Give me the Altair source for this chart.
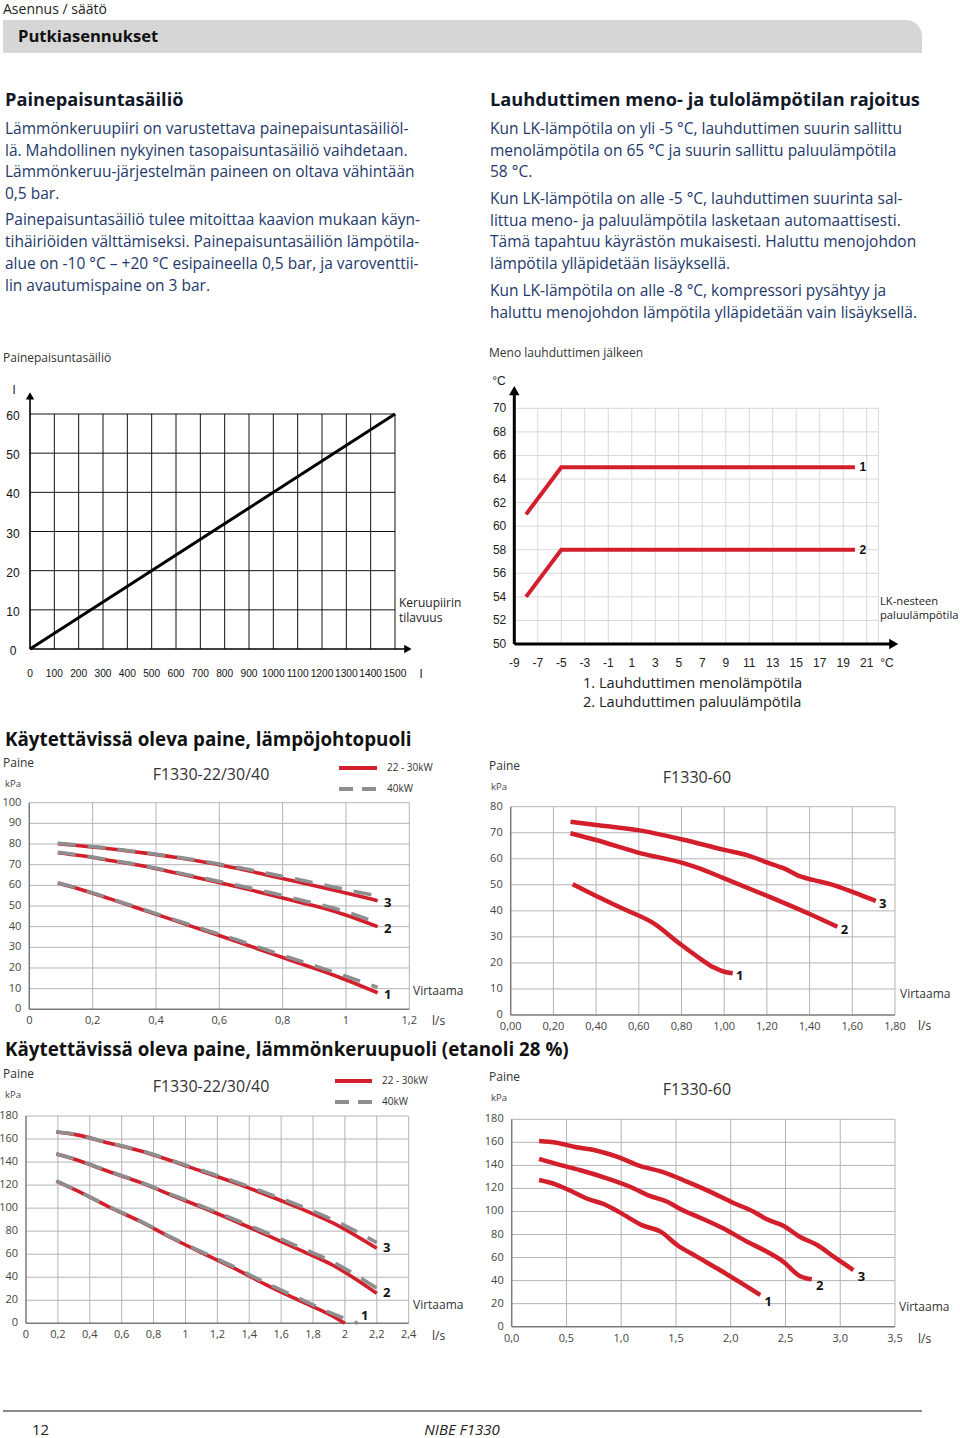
import altair as alt
import pandas as pd

# ---------------- data ----------------
# Chart 1: expansion vessel size vs collector volume
vessel_volume = [0, 1500]
vessel_litres = [0, 60]

# Chart 2: condenser limits vs brine return temp
lk_temp = [-8, -5, 20]
flow_limit = [61, 65, 65]
return_limit = [54, 58, 58]

# Chart 3: heating side F1330-22/30/40 (x = l/s, y = kPa)
hs_x = [0.09, 0.16, 0.26, 0.36, 0.46, 0.56, 0.66, 0.76, 0.86, 0.96, 1.10]
hs_red_3 = [80.2, 79.2, 77.6, 75.7, 73.6, 71.1, 68.1, 64.7, 61.3, 57.7, 52.6]
hs_gray_3 = [80.4, 79.4, 77.8, 75.9, 73.8, 71.4, 68.6, 65.6, 62.5, 59.2, 54.8]
hs_red_2 = [75.8, 74.4, 71.9, 69.4, 66.1, 62.7, 59.2, 55.5, 51.6, 47.6, 40.0]
hs_gray_2 = [76.0, 74.6, 72.1, 69.6, 66.4, 63.2, 59.9, 56.5, 52.8, 49.0, 41.9]
hs_red_1 = [61.1, 58.1, 53.2, 48.1, 42.9, 37.7, 32.6, 27.2, 21.9, 16.6, 8.0]
hs_gray_1 = [61.3, 58.3, 53.4, 48.4, 43.3, 38.3, 33.4, 28.2, 23.1, 18.1, 10.6]

# Chart 4: heating side F1330-60
h60_x1 = [0.29, 0.40, 0.54, 0.67, 0.79, 0.89, 0.95, 1.00, 1.04]
h60_y1 = [50.2, 45.7, 40.3, 35.2, 27.5, 21.5, 18.3, 16.6, 16.0]
h60_x2 = [0.28, 0.40, 0.61, 0.80, 0.87, 1.00, 1.20, 1.40, 1.53]
h60_y2 = [69.8, 67.2, 62.1, 58.5, 56.7, 52.5, 45.8, 38.8, 33.9]
h60_x3 = [0.28, 0.40, 0.61, 0.80, 1.00, 1.11, 1.20, 1.28, 1.36, 1.42, 1.50, 1.61, 1.71]
h60_y3 = [74.2, 73.0, 70.8, 67.5, 63.4, 61.3, 58.6, 56.3, 53.1, 51.8, 50.2, 47.0, 43.8]

# Chart 5: brine side F1330-22/30/40
bs_x = [0.19, 0.32, 0.51, 0.72, 0.91, 1.11, 1.32, 1.51, 1.72, 1.93, 2.20]
bs_red_3 = [166.1, 163.6, 156.8, 149.6, 141.2, 131.6, 121.5, 111.4, 99.8, 86.8, 65.1]
bs_gray_3 = [166.3, 163.8, 157.0, 149.9, 141.6, 132.4, 122.6, 113.0, 101.9, 89.5, 70.0]
bs_red_2 = [147.0, 141.8, 132.2, 122.1, 111.4, 100.3, 88.2, 76.6, 63.6, 50.0, 26.0]
bs_gray_2 = [147.2, 142.0, 132.5, 122.5, 112.0, 101.2, 89.5, 78.4, 65.8, 52.8, 30.4]
bs_x1_red = [0.19, 0.32, 0.51, 0.72, 0.91, 1.11, 1.32, 1.51, 1.72, 1.93, 2.00]
bs_red_1 = [123.5, 115.1, 101.8, 88.2, 74.3, 60.8, 46.9, 33.2, 19.4, 5.7, 0.0]
bs_x1_gray = [0.19, 0.32, 0.51, 0.72, 0.91, 1.11, 1.32, 1.51, 1.72, 1.93, 2.08]
bs_gray_1 = [123.7, 115.3, 102.1, 88.6, 74.8, 61.5, 47.9, 34.6, 21.2, 8.0, 0.0]

# Chart 6: brine side F1330-60
b60_x1 = [0.25, 0.40, 0.52, 0.72, 0.84, 0.99, 1.20, 1.36, 1.51, 1.69, 1.90, 2.09, 2.27]
b60_y1 = [127.3, 123.6, 118.7, 110.0, 106.5, 99.0, 87.7, 82.5, 70.9, 60.8, 49.2, 38.2, 27.5]
b60_x2 = [0.25, 0.44, 0.62, 0.87, 1.08, 1.26, 1.42, 1.54, 1.72, 1.93, 2.15, 2.33, 2.48, 2.63, 2.74]
b60_y2 = [145.6, 140.4, 136.0, 128.8, 121.5, 113.5, 108.5, 102.2, 94.6, 85.4, 73.8, 65.1, 56.4, 44.0, 41.1]
b60_x3 = [0.25, 0.41, 0.59, 0.75, 0.96, 1.17, 1.39, 1.60, 1.81, 2.02, 2.21, 2.33, 2.48, 2.63, 2.79, 2.94, 3.12]
b60_y3 = [161.2, 159.7, 155.7, 153.4, 147.6, 139.5, 134.0, 125.9, 117.2, 107.6, 99.8, 93.2, 87.7, 78.1, 70.9, 60.8, 49.2]

# tick labels
t1_x = list(range(0, 1501, 100))
t1_y = [0, 10, 20, 30, 40, 50, 60]
t2_x = list(range(-9, 22, 2))
t2_y = list(range(50, 71, 2))
t3_x = [0, 0.2, 0.4, 0.6, 0.8, 1.0, 1.2]
t3_xl = ["0", "0,2", "0,4", "0,6", "0,8", "1", "1,2"]
t3_y = list(range(0, 101, 10))
t4_x = [0, 0.2, 0.4, 0.6, 0.8, 1.0, 1.2, 1.4, 1.6, 1.8]
t4_xl = ["0,00", "0,20", "0,40", "0,60", "0,80", "1,00", "1,20", "1,40", "1,60", "1,80"]
t4_y = list(range(0, 81, 10))
t5_x = [0, 0.2, 0.4, 0.6, 0.8, 1.0, 1.2, 1.4, 1.6, 1.8, 2.0, 2.2, 2.4]
t5_xl = ["0", "0,2", "0,4", "0,6", "0,8", "1", "1,2", "1,4", "1,6", "1,8", "2", "2,2", "2,4"]
t5_y = list(range(0, 181, 20))
t6_x = [0, 0.5, 1.0, 1.5, 2.0, 2.5, 3.0, 3.5]
t6_xl = ["0,0", "0,5", "1,0", "1,5", "2,0", "2,5", "3,0", "3,5"]
t6_y = list(range(0, 181, 20))

left_lines = [
    "Lämmönkeruupiiri on varustettava painepaisuntasäiliöl-",
    "lä. Mahdollinen nykyinen tasopaisuntasäiliö vaihdetaan.",
    "Lämmönkeruu-järjestelmän paineen on oltava vähintään",
    "0,5 bar.",
    "Painepaisuntasäiliö tulee mitoittaa kaavion mukaan käyn-",
    "tihäiriöiden välttämiseksi. Painepaisuntasäiliön lämpötila-",
    "alue on -10 °C – +20 °C esipaineella 0,5 bar, ja varoventtii-",
    "lin avautumispaine on 3 bar.",
]
right_lines = [
    "Kun LK-lämpötila on yli -5 °C, lauhduttimen suurin sallittu",
    "menolämpötila on 65 °C ja suurin sallittu paluulämpötila",
    "58 °C.",
    "Kun LK-lämpötila on alle -5 °C, lauhduttimen suurinta sal-",
    "littua meno- ja paluulämpötila lasketaan automaattisesti.",
    "Tämä tapahtuu käyrästön mukaisesti. Haluttu menojohdon",
    "lämpötila ylläpidetään lisäyksellä.",
    "Kun LK-lämpötila on alle -8 °C, kompressori pysähtyy ja",
    "haluttu menojohdon lämpötila ylläpidetään vain lisäyksellä.",
]

# ---------------- styles ----------------
SANS = "Open Sans, Noto Sans, sans-serif"
ARIAL = "Liberation Sans, Arial, sans-serif"
RED = "#d21f2b"
GRAY = "#8e8e8e"
BODY = "#24396b"
HEAD = "#111827"
GRID = "#b4b4b4"

layers = []


def sc(dom, rng):
    return alt.Scale(domain=dom, range=rng, nice=False, zero=False)


class Panel:
    def __init__(self, xdom, xrng, ydom, yrng):
        self.xdom, self.xrng, self.ydom, self.yrng = xdom, xrng, ydom, yrng

    def X(self, f):
        return alt.X(f, type="quantitative", scale=sc(self.xdom, self.xrng), axis=None)

    def Y(self, f):
        return alt.Y(f, type="quantitative", scale=sc(self.ydom, self.yrng), axis=None)

    def hlines(self, ys, x0, x1, color, width):
        df = pd.DataFrame({"y": ys, "x0": x0, "x1": x1})
        layers.append(alt.Chart(df).mark_rule(color=color, strokeWidth=width).encode(
            x=self.X("x0"), x2="x1", y=self.Y("y")))

    def vlines(self, xs, y0, y1, color, width):
        df = pd.DataFrame({"x": xs, "y0": y0, "y1": y1})
        layers.append(alt.Chart(df).mark_rule(color=color, strokeWidth=width).encode(
            x=self.X("x"), y=self.Y("y0"), y2="y1"))

    def line(self, xs, ys, color, width, dash=None, interp="monotone", cap="butt"):
        df = pd.DataFrame({"x": xs, "y": ys})
        kw = dict(color=color, strokeWidth=width, interpolate=interp, strokeCap=cap)
        if dash:
            kw["strokeDash"] = dash
        layers.append(alt.Chart(df).mark_line(**kw).encode(x=self.X("x"), y=self.Y("y")))

    def texts(self, xs, ys, labels, **style):
        df = pd.DataFrame({"x": xs, "y": ys, "t": labels})
        layers.append(alt.Chart(df).mark_text(**style).encode(
            x=self.X("x"), y=self.Y("y"), text="t:N"))

    def arrow(self, x, y, shape, size):
        df = pd.DataFrame({"x": [x], "y": [y]})
        layers.append(alt.Chart(df).mark_point(shape=shape, filled=True, size=size,
                                               color="black", opacity=1).encode(
            x=self.X("x"), y=self.Y("y")))


def ptext(items, **style):
    df = pd.DataFrame(items, columns=["px", "py", "t"])
    layers.append(alt.Chart(df).mark_text(**style).encode(
        x=alt.X("px:Q", scale=None, axis=None),
        y=alt.Y("py:Q", scale=None, axis=None),
        text="t:N"))


def prule(x0, x1, y, color, width, dash=None):
    df = pd.DataFrame({"x0": [x0], "x1": [x1], "y": [y]})
    kw = dict(color=color, strokeWidth=width)
    if dash:
        kw["strokeDash"] = dash
    layers.append(alt.Chart(df).mark_rule(**kw).encode(
        x=alt.X("x0:Q", scale=None, axis=None), x2="x1",
        y=alt.Y("y:Q", scale=None, axis=None)))


# ---------------- page header & text ----------------
df_bar = pd.DataFrame({"x0": [3], "x1": [922], "y0": [20], "y1": [53]})
layers.append(alt.Chart(df_bar).mark_rect(color="#d6d6d6", cornerRadiusTopRight=16).encode(
    x=alt.X("x0:Q", scale=None, axis=None), x2="x1",
    y=alt.Y("y0:Q", scale=None, axis=None), y2="y1"))
ptext([(3, 10, "Asennus / säätö")], align="left", baseline="middle", font=SANS, fontSize=14, color="#222222")
ptext([(18, 37, "Putkiasennukset")], align="left", baseline="middle", font=SANS, fontSize=16.6,
      fontWeight="bold", color="#111111")

ptext([(5, 101, "Painepaisuntasäiliö"), (490, 101, "Lauhduttimen meno- ja tulolämpötilan rajoitus")],
      align="left", baseline="middle", font=SANS, fontSize=18.2, fontWeight="bold", color=HEAD)
ly = [129, 151, 172, 194, 220, 242, 264, 286]
ry = [129, 151, 172, 199, 221, 242, 264, 291, 313]
ptext([(5, y, t) for y, t in zip(ly, left_lines)] + [(490, y, t) for y, t in zip(ry, right_lines)],
      align="left", baseline="middle", font=SANS, fontSize=15.5, color=BODY)

ptext([(3, 358, "Painepaisuntasäiliö"), (489, 353, "Meno lauhduttimen jälkeen")],
      align="left", baseline="middle", font=SANS, fontSize=12, color="#333333")

ptext([(5, 740, "Käytettävissä oleva paine, lämpöjohtopuoli"),
       (5, 1050, "Käytettävissä oleva paine, lämmönkeruupuoli (etanoli 28 %)")],
      align="left", baseline="middle", font=SANS, fontSize=18.8, fontWeight="bold", color="#111111")

# footer
prule(3, 922, 1411, "#8a8a8a", 2)
ptext([(32, 1430, "12")], align="left", baseline="middle", font=SANS, fontSize=15, color="#222222")
ptext([(462, 1430, "NIBE F1330")], align="center", baseline="middle", font=SANS, fontSize=15,
      fontStyle="italic", color="#222222")

# ---------------- Chart 1 ----------------
p1 = Panel([0, 1500], [30, 395], [0, 60], [649, 414])
p1.hlines(t1_y[1:], 0, 1500, "#111111", 1)
p1.vlines(t1_x[1:], 0, 60, "#111111", 1)
p1.hlines([0], 0, 1550, "#000000", 1.6)
p1.vlines([0], 0, 64, "#000000", 1.6)
p1.arrow(1553, 0, "triangle-right", 70)
p1.arrow(0, 64.6, "triangle-up", 70)
p1.line(vessel_volume, vessel_litres, "#000000", 3, interp="linear")
p1.texts(t1_x, [0] * len(t1_x), [str(v) for v in t1_x], align="center", baseline="middle", dy=25,
         font=ARIAL, fontSize=10.2, color="#111111")
p1.texts([0] * len(t1_y), t1_y, [str(v) for v in t1_y], align="center", baseline="middle", dx=-17, dy=2,
         font=ARIAL, fontSize=12, color="#111111")
ptext([(14, 390, "l"), (421, 674, "l")], align="center", baseline="middle", font=ARIAL, fontSize=12,
      color="#111111")
ptext([(399, 603, "Keruupiirin"), (399, 618, "tilavuus")], align="left", baseline="middle",
      font=SANS, fontSize=12, color="#222222")

# ---------------- Chart 2 ----------------
p2 = Panel([-9, 21], [514.3, 866.7], [50, 70], [644, 408.3])
p2.hlines(t2_y[1:], -9, 22, "#d8d8d8", 1)
p2.vlines(t2_x[1:] + [22], 50, 70, "#d8d8d8", 1)
p2.hlines([50], -9, 23, "#000000", 3)
p2.vlines([-9], 50, 71.2, "#000000", 3)
p2.arrow(23.3, 50, "triangle-right", 110)
p2.arrow(-9, 71.5, "triangle-up", 110)
p2.line(lk_temp, flow_limit, RED, 4, interp="linear")
p2.line(lk_temp, return_limit, RED, 4, interp="linear")
p2.texts([20, 20], [65, 58], ["1", "2"], align="center", baseline="middle", dx=8, font=ARIAL,
         fontSize=12, fontWeight="bold", color="#111111")
p2.texts(t2_x, [50] * len(t2_x), [str(v) for v in t2_x], align="center", baseline="middle", dy=19,
         font=ARIAL, fontSize=12, color="#222222")
p2.texts([-9] * len(t2_y), t2_y, [str(v) for v in t2_y], align="right", baseline="middle", dx=-8,
         font=ARIAL, fontSize=12, color="#222222")
ptext([(499, 381, "°C"), (887, 663, "°C")], align="center", baseline="middle", font=ARIAL, fontSize=12,
      color="#222222")
ptext([(880, 602, "LK-nesteen"), (880, 616, "paluulämpötila")], align="left", baseline="middle",
      font=SANS, fontSize=11.2, color="#222222")
ptext([(583, 684, "1. Lauhduttimen menolämpötila"), (583, 703, "2. Lauhduttimen paluulämpötila")],
      align="left", baseline="middle", font=SANS, fontSize=14.6, color="#222222")


def pressure_panel(p, xt, xl, yt, frame_x, frame_y, title, title_xy, paine_xy, legend_y=None):
    p.hlines(yt[1:], 0, frame_x, GRID, 1)
    p.vlines(xt[1:], 0, frame_y, GRID, 1)
    p.hlines([0], 0, frame_x, "#7a7a7a", 1.5)
    p.vlines([0], 0, frame_y, "#7a7a7a", 1.5)
    p.texts(xt, [0] * len(xt), xl, align="center", baseline="middle", dy=12, font=SANS, fontSize=11,
            color="#444444")
    p.texts([0] * len(yt), yt, [str(v) for v in yt], align="right", baseline="middle", dx=-8,
            font=SANS, fontSize=11, color="#444444")
    ptext([(title_xy[0], title_xy[1], title)], align="center", baseline="middle", font=SANS, fontSize=16,
          color="#333333")
    ptext([(paine_xy[0], paine_xy[1], "Paine")], align="left", baseline="middle", font=SANS, fontSize=12,
          color="#333333")
    ptext([(paine_xy[0] + 2, paine_xy[1] + 21, "kPa")], align="left", baseline="middle", font=SANS,
          fontSize=9.5, color="#444444")
    if legend_y is not None:
        lx0, lx1, y1, y2 = legend_y
        prule(lx0, lx1, y1, RED, 4)
        prule(lx0, lx1, y2, GRAY, 4, dash=[14, 9])
        ptext([(lx1 + 10, y1, "22 - 30kW"), (lx1 + 10, y2, "40kW")], align="left", baseline="middle",
              font=SANS, fontSize=10, color="#333333")


# ---------------- Chart 3 ----------------
p3 = Panel([0, 1.2], [29.3, 409.3], [0, 100], [1009.3, 802.7])
pressure_panel(p3, t3_x, t3_xl, t3_y, 1.2, 100, "F1330-22/30/40", (211, 775), (3, 763),
               (339, 377, 768, 789))
for r, g in [(hs_red_3, hs_gray_3), (hs_red_2, hs_gray_2), (hs_red_1, hs_gray_1)]:
    p3.line(hs_x, r, RED, 3.6)
    p3.line(hs_x, g, GRAY, 3.6, dash=[18, 12])
p3.texts([hs_x[-1]] * 3, [hs_red_3[-1], hs_red_2[-1], hs_red_1[-1]], ["3", "2", "1"], align="center",
         baseline="middle", dx=10, dy=2, font=SANS, fontSize=13, fontWeight="bold", color="#111111")
ptext([(413, 991, "Virtaama"), (432, 1021, "l/s")], align="left", baseline="middle", font=SANS,
      fontSize=12, color="#333333")

# ---------------- Chart 4 ----------------
p4 = Panel([0, 1.8], [510.7, 895], [0, 80], [1015, 806.7])
pressure_panel(p4, t4_x, t4_xl, t4_y, 1.8, 80, "F1330-60", (697, 778), (489, 766))
for xs, ys in [(h60_x1, h60_y1), (h60_x2, h60_y2), (h60_x3, h60_y3)]:
    p4.line(xs, ys, RED, 4.5)
p4.texts([h60_x3[-1], h60_x2[-1], h60_x1[-1]], [h60_y3[-1], h60_y2[-1], h60_y1[-1]], ["3", "2", "1"],
         align="center", baseline="middle", dx=7, dy=3, font=SANS, fontSize=13, fontWeight="bold",
         color="#111111")
ptext([(900, 994, "Virtaama"), (918, 1026, "l/s")], align="left", baseline="middle", font=SANS,
      fontSize=12, color="#333333")

# ---------------- Chart 5 ----------------
p5 = Panel([0, 2.4], [26, 408.7], [0, 180], [1323.3, 1116])
pressure_panel(p5, t5_x, t5_xl, t5_y, 2.4, 180, "F1330-22/30/40", (211, 1087), (3, 1074),
               (335, 372, 1081, 1102))
p5.line(bs_x, bs_red_3, RED, 3.6)
p5.line(bs_x, bs_gray_3, GRAY, 3.6, dash=[18, 12])
p5.line(bs_x, bs_red_2, RED, 3.6)
p5.line(bs_x, bs_gray_2, GRAY, 3.6, dash=[18, 12])
p5.line(bs_x1_red, bs_red_1, RED, 3.6)
p5.line(bs_x1_gray, bs_gray_1, GRAY, 3.6, dash=[18, 12])
p5.texts([bs_x[-1]] * 2, [bs_red_3[-1], bs_red_2[-1]], ["3", "2"], align="center", baseline="middle",
         dx=10, dy=0, font=SANS, fontSize=13, fontWeight="bold", color="#111111")
p5.texts([bs_x1_gray[-1]], [bs_gray_1[-1]], ["1"], align="center", baseline="middle", dx=7, dy=-7,
         font=SANS, fontSize=13, fontWeight="bold", color="#111111")
ptext([(413, 1305, "Virtaama"), (432, 1336, "l/s")], align="left", baseline="middle", font=SANS,
      fontSize=12, color="#333333")

# ---------------- Chart 6 ----------------
p6 = Panel([0, 3.5], [511.7, 895], [0, 180], [1326.7, 1119.3])
pressure_panel(p6, t6_x, t6_xl, t6_y, 3.5, 180, "F1330-60", (697, 1090), (489, 1077))
for xs, ys in [(b60_x1, b60_y1), (b60_x2, b60_y2), (b60_x3, b60_y3)]:
    p6.line(xs, ys, RED, 4.5)
p6.texts([b60_x3[-1], b60_x2[-1], b60_x1[-1]], [b60_y3[-1], b60_y2[-1], b60_y1[-1]], ["3", "2", "1"],
         align="center", baseline="middle", dx=8, dy=7, font=SANS, fontSize=13, fontWeight="bold",
         color="#111111")
ptext([(899, 1307, "Virtaama"), (918, 1339, "l/s")], align="left", baseline="middle", font=SANS,
      fontSize=12, color="#333333")

chart = alt.layer(*layers).resolve_scale(x="independent", y="independent").properties(
    width=960, height=1438, padding=0, background="white",
    autosize=alt.AutoSizeParams(type="none"),
).configure_view(stroke=None)

chart.save("out.html", embed_options={"renderer": "svg", "actions": False})
